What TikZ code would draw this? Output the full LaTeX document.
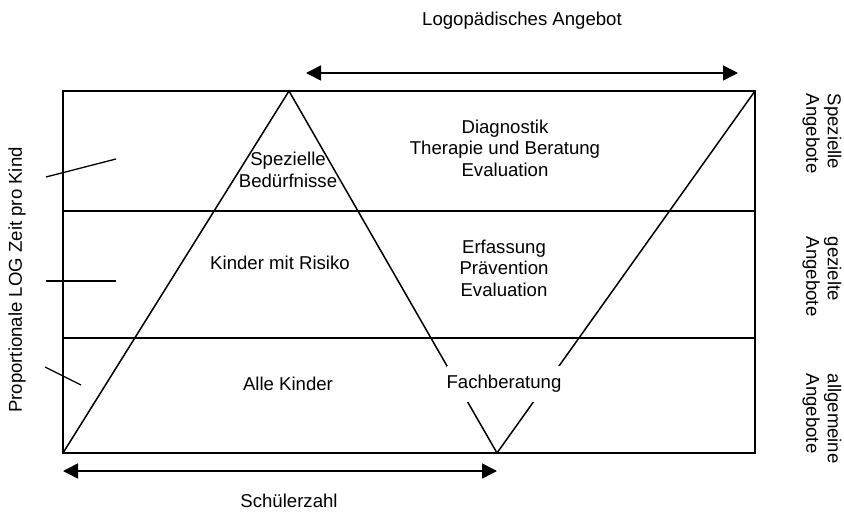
\documentclass[tikz,border=0pt]{standalone}
\usepackage{fontspec}
\setmainfont{Liberation Sans}
\usetikzlibrary{arrows.meta}

\begin{document}
\begin{tikzpicture}[
  x=1pt, y=-1pt,
  line width=1.5pt,
  >={Triangle[length=15pt, width=15pt]},
  lbl/.style={font=\fontsize{18.6}{21.4}\selectfont, align=center, inner sep=1pt},
  side/.style={lbl, align=left, rotate=-90, anchor=west, inner sep=0pt},
  tick/.style={line width=1.3pt}
]
\useasboundingbox (0,0) rectangle (844,516);

% Frame and layers
\coordinate (tl) at (63,91);
\coordinate (tr) at (755,91);
\coordinate (bl) at (63,453);
\coordinate (br) at (755,453);
\coordinate (l1) at (63,211);
\coordinate (r1) at (755,211);
\coordinate (l2) at (63,338);
\coordinate (r2) at (755,338);

\draw (tl) rectangle (br);
\draw (l1) -- (r1);
\draw (l2) -- (r2);

% Triangle and V
\coordinate (apex) at (289,91);
\coordinate (vtip) at (497,453);
\draw (bl) -- (apex) -- (vtip) -- (tr);

% Texts inside
\node[lbl] (spez) at (288,170) {Spezielle\\Bedürfnisse};
\node[lbl] (diag) at (505,148) {Diagnostik\\Therapie und Beratung\\Evaluation};
\node[lbl] (risk) at (280,263) {Kinder mit Risiko};
\node[lbl] (erf) at (504,268) {Erfassung\\Prävention\\Evaluation};
\node[lbl] (alle) at (288,384) {Alle Kinder};
\node[lbl, fill=white, inner xsep=0pt, inner ysep=9pt] (fach) at (504,384) {Fachberatung};

% Arrows
\coordinate (a1) at (306,73);
\coordinate (a2) at (738,73);
\draw[<->] (a1) -- (a2);
\node[lbl] (logo) at (522,21) {Logopädisches Angebot};

\coordinate (b1) at (63,471);
\coordinate (b2) at (497,471);
\draw[<->] (b1) -- (b2);
\node[lbl] (schueler) at (289,501) {Schülerzahl};

% Left axis
\node[lbl, rotate=90] (ylab) at (17,280) {Proportionale LOG Zeit pro Kind};
\coordinate (t1a) at (46,177);
\coordinate (t1b) at (116,159);
\coordinate (t2a) at (46,281);
\coordinate (t2b) at (116,281);
\coordinate (t3a) at (45,367);
\coordinate (t3b) at (81,385);
\draw[tick] (t1a) -- (t1b);
\draw[tick] (t2a) -- (t2b);
\draw[tick] (t3a) -- (t3b);

% Right labels
\node[side] (sA) at (822,93) {Spezielle\\Angebote};
\node[side] (gA) at (822,236) {gezielte\\Angebote};
\node[side] (aA) at (822,373) {allgemeine\\Angebote};

\end{tikzpicture}
\end{document}
